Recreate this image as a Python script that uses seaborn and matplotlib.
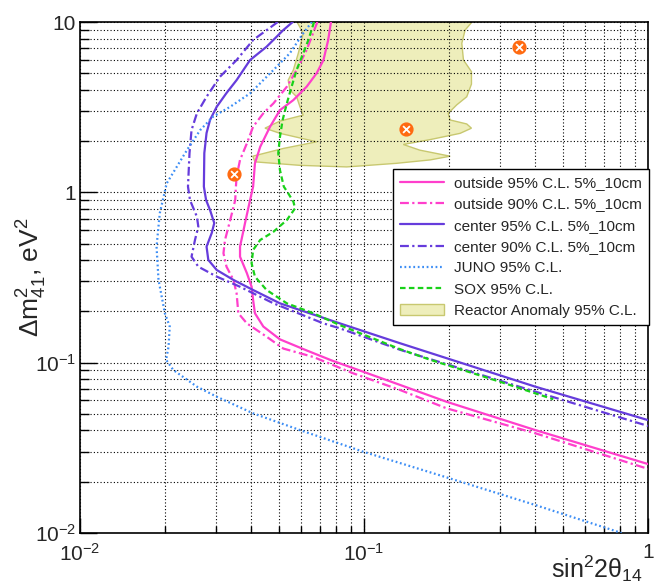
import numpy as np
import pandas as pd
import matplotlib
matplotlib.use("Agg")
import matplotlib.pyplot as plt
import seaborn as sns
from matplotlib.ticker import FixedLocator, FixedFormatter, NullFormatter, LogLocator
from matplotlib.patches import Patch

# ---------------- data ----------------
out95_x = [0.0765, 0.0748, 0.0720, 0.0681, 0.0628, 0.0564, 0.0506, 0.0467, 0.0431, 0.0413, 0.0407,
           0.0397, 0.0381, 0.0366, 0.0366, 0.0387, 0.0402, 0.0407, 0.0413, 0.0442, 0.0506, 0.0628,
           0.0770, 0.134, 0.195, 0.401, 1.0]
out95_y = [10, 7.84, 5.98, 5.0, 4.17, 3.48, 3.04, 2.43, 1.85, 1.48, 1.08,
           0.90, 0.658, 0.480, 0.419, 0.335, 0.279, 0.233, 0.195, 0.163, 0.137, 0.118,
           0.103, 0.074, 0.059, 0.0402, 0.0254]

out90_x = [0.0685, 0.0628, 0.0579, 0.0535, 0.0480, 0.0442, 0.0407, 0.0387, 0.0366, 0.0356, 0.0354,
           0.0352, 0.0338, 0.0324, 0.0320, 0.0328, 0.0347, 0.0356, 0.0361, 0.0387, 0.0454, 0.0520,
           0.0663, 0.0916, 0.134, 0.195, 0.401, 1.0]
out90_y = [10, 6.85, 5.23, 4.17, 3.33, 2.91, 2.43, 1.94, 1.55, 1.24, 1.08,
           0.90, 0.688, 0.525, 0.439, 0.366, 0.306, 0.255, 0.195, 0.170, 0.142, 0.121,
           0.108, 0.0866, 0.0691, 0.054, 0.0385, 0.0238]

cen95_x = [0.0561, 0.0520, 0.0454, 0.0397, 0.0356, 0.0328, 0.0303, 0.0287, 0.0279, 0.0274, 0.0273,
           0.0278, 0.0287, 0.0297, 0.0291, 0.0279, 0.0283, 0.0303, 0.0347, 0.0407, 0.0506, 0.0823,
           0.134, 0.401, 1.0]
cen95_y = [10, 8.97, 7.16, 5.98, 4.56, 3.83, 3.18, 2.66, 2.23, 1.70, 1.08,
           0.90, 0.787, 0.660, 0.577, 0.480, 0.401, 0.350, 0.306, 0.267, 0.223, 0.170,
           0.130, 0.0723, 0.046]

cen90_x = [0.0497, 0.0407, 0.0356, 0.0311, 0.0279, 0.0258, 0.0247, 0.0243, 0.0240, 0.0244, 0.0258,
           0.0261, 0.0254, 0.0247, 0.0261, 0.0303, 0.0366, 0.0480, 0.0720, 0.0823, 0.134, 0.401, 1.0]
cen90_y = [10, 7.84, 5.98, 4.77, 3.64, 2.91, 2.32, 1.70, 1.08, 0.90, 0.719,
           0.629, 0.525, 0.419, 0.366, 0.320, 0.279, 0.223, 0.170, 0.159, 0.119, 0.0676, 0.0425]

juno_x = [0.0655, 0.0611, 0.0548, 0.0480, 0.0397, 0.0338, 0.0294, 0.0265, 0.0238, 0.0219, 0.0202,
          0.0191, 0.0186, 0.0189, 0.0199, 0.0207, 0.0205, 0.0201, 0.0213, 0.0258, 0.0303, 0.0407,
          0.0595, 0.0994, 0.201, 0.401, 0.807]
juno_y = [10, 8.59, 6.55, 5.23, 3.81, 3.18, 2.78, 2.32, 1.77, 1.41, 1.13,
          0.756, 0.480, 0.306, 0.195, 0.163, 0.124, 0.104, 0.0906, 0.0723, 0.0631, 0.0504,
          0.0402, 0.030, 0.0209, 0.0146, 0.01]

sox_x = [0.0667, 0.0637, 0.0611, 0.0579, 0.0556, 0.0535, 0.0517, 0.0506, 0.0499, 0.0506, 0.0522,
         0.0541, 0.0564, 0.0572, 0.0535, 0.0480, 0.0431, 0.0407, 0.0402, 0.0413, 0.0454, 0.0535,
         0.0663, 0.0823, 0.134, 0.171, 0.301, 0.464]
sox_y = [10, 7.84, 6.55, 5.23, 4.17, 3.33, 2.66, 2.12, 1.70, 1.35, 1.08,
         0.987, 0.881, 0.806, 0.688, 0.587, 0.525, 0.459, 0.383, 0.320, 0.267, 0.223,
         0.195, 0.166, 0.120, 0.104, 0.0773, 0.061]

ra_x = [0.0581, 0.240, 0.227, 0.221, 0.224, 0.239, 0.239, 0.230, 0.212, 0.198, 0.201, 0.230, 0.239,
        0.218, 0.171, 0.1375, 0.157, 0.201, 0.171, 0.130, 0.0869, 0.0595, 0.0413, 0.0406, 0.0520,
        0.0681, 0.0506, 0.0448, 0.0506, 0.0611, 0.0595, 0.0579, 0.0548, 0.0541, 0.0564, 0.0587,
        0.0611, 0.0581]
ra_y = [10, 10, 8.97, 7.50, 5.98, 5.11, 4.32, 3.64, 3.26, 2.91, 2.66, 2.52, 2.38,
        2.22, 2.04, 1.91, 1.77, 1.63, 1.55, 1.48, 1.41, 1.44, 1.51, 1.63, 1.81,
        1.98, 2.22, 2.38, 2.62, 2.84, 3.18, 3.64, 3.99, 4.56, 5.23, 6.55,
        8.59, 10]

bf_x = [0.0349, 0.140, 0.351]
bf_y = [1.28, 2.35, 7.16]

labels = ["outside 95% C.L. 5%_10cm", "outside 90% C.L. 5%_10cm",
          "center 95% C.L. 5%_10cm", "center 90% C.L. 5%_10cm",
          "JUNO 95% C.L.", "SOX 95% C.L.", "Reactor Anomaly 95% C.L."]

xticks = [0.01, 0.1, 1.0]
xticklabels = [r"$10^{-2}$", r"$10^{-1}$", "1"]
yticks = [0.01, 0.1, 1.0, 10.0]
yticklabels = [r"$10^{-2}$", r"$10^{-1}$", "1", "10"]

# ---------------- style ----------------
sns.set_theme(style="ticks")
plt.rcParams["font.family"] = ["Liberation Sans", "DejaVu Sans"]
plt.rcParams["mathtext.fontset"] = "custom"
plt.rcParams["mathtext.rm"] = "Liberation Sans"
plt.rcParams["mathtext.it"] = "Liberation Sans:italic"
plt.rcParams["mathtext.default"] = "regular"

MAG = "#ff3fcc"
PUR = "#663cdc"
BLU = "#3d8ef5"
GRN = "#19d119"

fig = plt.figure(figsize=(6.55, 5.85), dpi=100)
ax = fig.add_axes([80 / 655, 52 / 585, 568 / 655, 511 / 585])
ax.set_xscale("log")
ax.set_yscale("log")

# reactor anomaly region
ax.fill(ra_x, ra_y, facecolor="#eeeebb", edgecolor="#c8c870", linewidth=1.0, zorder=1)

series = [
    (out95_x, out95_y, MAG, "-"),
    (out90_x, out90_y, MAG, (0, (4, 1.5, 1, 1.5))),
    (cen95_x, cen95_y, PUR, "-"),
    (cen90_x, cen90_y, PUR, (0, (4, 1.5, 1, 1.5))),
    (juno_x, juno_y, BLU, (0, (0.8, 1.2))),
    (sox_x, sox_y, GRN, (0, (2.5, 1.5))),
]
handles = []
for (xs, ys, col, ls), lab in zip(series, labels):
    df = pd.DataFrame({"x": xs, "y": ys})
    sns.lineplot(data=df, x="x", y="y", sort=False, estimator=None, color=col,
                 linestyle=ls, linewidth=1.6, ax=ax, zorder=3)
    handles.append(ax.get_lines()[-1])
handles.append(Patch(facecolor="#eeeebb", edgecolor="#c8c870", linewidth=1.0))

# best fit markers
bf = pd.DataFrame({"x": bf_x, "y": bf_y})
sns.scatterplot(data=bf, x="x", y="y", marker="o", s=85, color="#ff6a10",
                edgecolor="#ff6a10", linewidth=1.0, ax=ax, zorder=5)
sns.scatterplot(data=bf, x="x", y="y", marker="x", s=24, color="white",
                linewidth=1.3, ax=ax, zorder=6)

ax.set_xlim(0.01, 1.0)
ax.set_ylim(0.01, 10.0)

ax.xaxis.set_major_locator(FixedLocator(xticks))
ax.xaxis.set_major_formatter(FixedFormatter(xticklabels))
ax.yaxis.set_major_locator(FixedLocator(yticks))
ax.yaxis.set_major_formatter(FixedFormatter(yticklabels))
ax.xaxis.set_minor_locator(LogLocator(base=10, subs=np.arange(2, 10)))
ax.yaxis.set_minor_locator(LogLocator(base=10, subs=np.arange(2, 10)))
ax.xaxis.set_minor_formatter(NullFormatter())
ax.yaxis.set_minor_formatter(NullFormatter())

ax.grid(True, which="both", color="black", linestyle=(0, (1, 2)), linewidth=0.8)
ax.set_axisbelow("line")

ax.tick_params(which="both", direction="in", top=False, right=False, color="black")
ax.tick_params(axis="x", which="major", length=11, width=1, pad=7, labelsize=15)
ax.tick_params(axis="x", which="minor", length=5, width=1)
ax.tick_params(axis="y", which="major", length=12, width=1, pad=3, labelsize=15)
ax.tick_params(axis="y", which="minor", length=6.5, width=1)
for sp in ax.spines.values():
    sp.set_linewidth(1.2)
    sp.set_color("black")
    sp.set_visible(True)

ax.set_xlabel(r"sin$^{2}$2$\theta_{14}$", fontsize=18, loc="right")
ax.xaxis.set_label_coords(0.991, -0.040)
ax.set_ylabel(r"$\Delta$m$^{2}_{41}$, eV$^{2}$", fontsize=19)
ax.yaxis.set_label_coords(-0.055, 0.5)

leg = ax.legend(handles, labels, loc="upper left", bbox_to_anchor=(0.5505, 0.7118),
                borderaxespad=0, fontsize=11, frameon=True, fancybox=False,
                edgecolor="black", framealpha=1, handlelength=2.9, handletextpad=0.65,
                labelspacing=0.48, borderpad=0.45)
leg.get_frame().set_linewidth(1.0)
leg.set_zorder(10)

fig.savefig("out.png", dpi=100)
